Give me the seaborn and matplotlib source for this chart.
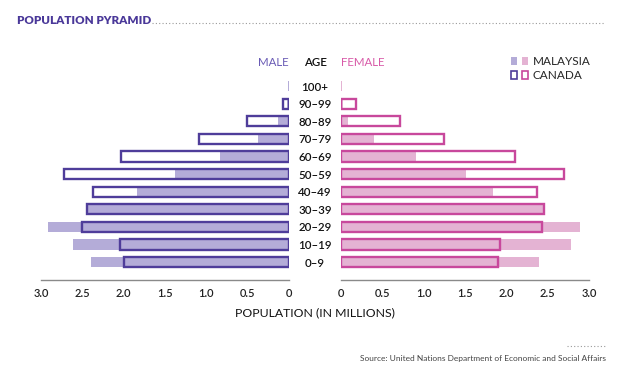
import numpy as np
import pandas as pd
import matplotlib
matplotlib.use("Agg")
import matplotlib.pyplot as plt
import seaborn as sns
from matplotlib.lines import Line2D
from matplotlib.patches import Patch
from matplotlib.legend_handler import HandlerTuple

# ---------------- data ----------------
ages = ['100+', '90–99', '80–89', '70–79', '60–69', '50–59',
        '40–49', '30–39', '20–29', '10–19', '0–9']
malaysia_male = [0.01, 0.02, 0.13, 0.38, 0.84, 1.38, 1.84, 2.45, 2.92, 2.61, 2.40]
canada_male = [np.nan, 0.07, 0.51, 1.09, 2.03, 2.72, 2.37, 2.44, 2.50, 2.04, 1.99]
malaysia_female = [0.01, 0.02, 0.09, 0.40, 0.91, 1.51, 1.84, 2.44, 2.89, 2.78, 2.39]
canada_female = [np.nan, 0.185, 0.71, 1.25, 2.10, 2.70, 2.37, 2.45, 2.43, 1.92, 1.90]
tick_vals = [0, 0.5, 1.0, 1.5, 2.0, 2.5, 3.0]
tick_labels = ['0', '0.5', '1.0', '1.5', '2.0', '2.5', '3.0']

# ---------------- style ----------------
sns.set_theme(style="white")
plt.rcParams['font.family'] = ['Lato', 'DejaVu Sans']

PURPLE_DARK = '#4f3d9a'
PURPLE_LIGHT = '#b4acd8'
PINK_DARK = '#c8489c'
PINK_LIGHT = '#e4b3d3'
TITLE_COL = '#4a3899'

W, H = 631, 377
fig = plt.figure(figsize=(W / 100, H / 100), dpi=100)

def fx(px):
    return px / W

def fy(py):
    return 1 - py / H

ax_bottom, ax_top = 280, 77.2
axL = fig.add_axes([fx(41), fy(ax_bottom), fx(289 - 41), (ax_bottom - ax_top) / H])
axR = fig.add_axes([fx(341), fy(ax_bottom), fx(589 - 341), (ax_bottom - ax_top) / H])

df = pd.DataFrame({
    'age': ages,
    'my_m': malaysia_male, 'ca_m': canada_male,
    'my_f': malaysia_female, 'ca_f': canada_female,
})

BW = 0.58
for ax, my_col, ca_col, light, dark in [
    (axL, 'my_m', 'ca_m', PURPLE_LIGHT, PURPLE_DARK),
    (axR, 'my_f', 'ca_f', PINK_LIGHT, PINK_DARK),
]:
    sns.barplot(data=df, x=my_col, y='age', order=ages, orient='h',
                color=light, saturation=1, width=BW, linewidth=0,
                errorbar=None, ax=ax)
    sns.barplot(data=df, x=ca_col, y='age', order=ages, orient='h',
                color=dark, fill=False, saturation=1, width=BW, linewidth=1.7,
                errorbar=None, ax=ax)
    ax.set_ylim(11.02, -0.5)
    ax.set_xlabel('')
    ax.set_ylabel('')
    for s in ['top', 'left', 'right']:
        ax.spines[s].set_visible(False)
    ax.spines['bottom'].set_color('#8a8a8a')
    ax.spines['bottom'].set_linewidth(1.0)
    ax.set_xticks(tick_vals)
    ax.set_xticklabels(tick_labels)
    ax.tick_params(axis='x', length=0, pad=6, labelsize=8, labelcolor='#222222')
    for lab in ax.get_xticklabels():
        lab.set_fontweight('semibold')
    for t in ax.xaxis.get_major_ticks():
        t.tick1line.set_marker('o')
        t.tick1line.set_markersize(3)
        t.tick1line.set_markerfacecolor('#111111')
        t.tick1line.set_markeredgecolor('#111111')
        t.tick1line.set_clip_on(False)
    ax.patch.set_alpha(0)

axL.set_xlim(3.0, 0)
axR.set_xlim(0, 3.0)
axL.set_yticks([])
axR.tick_params(axis='y', length=0, pad=18.7, labelsize=8.3, labelcolor='#111111')
for lab in axR.get_yticklabels():
    lab.set_horizontalalignment('center')
    lab.set_fontweight('semibold')

# ---------------- headers ----------------
fig.text(fx(289), fy(62), 'MALE', ha='right', va='center',
         fontsize=8.3, color='#6a5bb5')
fig.text(fx(315), fy(62), 'AGE', ha='center', va='center', fontsize=8.3,
         color='#111111', fontweight='semibold')
fig.text(fx(341), fy(62), 'FEMALE', ha='left', va='center', fontsize=8.3,
         color='#d85aa8')

# legend
h_my = (Patch(facecolor=PURPLE_LIGHT, edgecolor='none'), Patch(facecolor=PINK_LIGHT, edgecolor='none'))
h_ca = (Patch(facecolor='white', edgecolor=PURPLE_DARK, linewidth=1.2),
        Patch(facecolor='white', edgecolor=PINK_DARK, linewidth=1.2))
fig.legend([h_my, h_ca], ['MALAYSIA', 'CANADA'],
           handler_map={tuple: HandlerTuple(ndivide=None, pad=0.35)},
           loc='upper left', bbox_to_anchor=(fx(511), fy(56)), frameon=False,
           fontsize=8.5, handlelength=1.45, handleheight=0.75, handletextpad=0.4,
           labelspacing=0.25, borderaxespad=0, borderpad=0)

# title
fig.text(fx(17), fy(21), 'POPULATION PYRAMID', ha='left', va='center',
         fontsize=8.4, fontweight='heavy', color=TITLE_COL)
fig.add_artist(Line2D([fx(152), fx(605)], [fy(23), fy(23)], transform=fig.transFigure,
                      color='#9a9a9a', linewidth=0.8, linestyle=(0, (1, 2))))

# x label
fig.text(fx(315), fy(313), 'POPULATION (IN MILLIONS)', ha='center', va='center',
         fontsize=8.8, color='#111111')

# source
fig.add_artist(Line2D([fx(567), fx(606)], [fy(346), fy(346)], transform=fig.transFigure,
                      color='#9a9a9a', linewidth=0.8, linestyle=(0, (1, 2))))
fig.text(fx(606), fy(358), 'Source: United Nations Department of Economic and Social Affairs',
         ha='right', va='center', fontsize=6, color='#444444')

fig.savefig('out.png', dpi=100)
